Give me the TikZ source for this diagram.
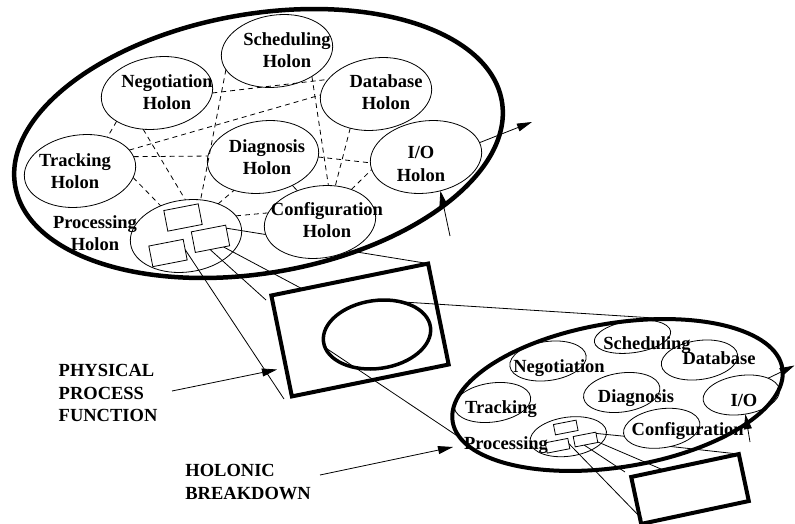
\documentclass[tikz,border=0pt]{standalone}
\usepackage{fontspec}
\setmainfont{Liberation Serif}
\usetikzlibrary{shapes.geometric,arrows.meta,calc}
\begin{document}
\begin{tikzpicture}[x=1pt,y=-1pt,
  holon/.style={ellipse,draw,line width=0.8pt,inner sep=0pt,outer sep=0pt,rotate=8},
  tholon/.style={holon,minimum width=112pt,minimum height=72pt},
  lholon/.style={holon,minimum width=77pt,minimum height=39pt},
  frame/.style={ellipse,draw,inner sep=0pt,outer sep=0pt},
  unit/.style={rectangle,draw,line width=0.8pt,inner sep=0pt,outer sep=0pt,rotate=11},
  tunit/.style={unit,minimum width=35pt,minimum height=21pt},
  lunit/.style={unit,minimum width=23pt,minimum height=10.5pt},
  lbl/.style={inner sep=0pt,font=\fontsize{18.5}{22.5}\selectfont\bfseries,align=center},
  side/.style={inner sep=0pt,font=\fontsize{18.5}{22.5}\selectfont\bfseries,align=left,anchor=west},
  comm/.style={line width=0.8pt,dash pattern=on 5pt off 4pt},
  link/.style={line width=0.8pt},
  arr/.style={line width=0.8pt,-{Triangle[length=15pt,width=8pt]}},
]
\useasboundingbox (0,0) rectangle (795,524);

% ---------- upper holarchy ----------
\node[frame,line width=4.5pt,minimum width=494pt,minimum height=259pt,rotate=9.9] (te) at (258.5,143.5) {};
\node[tholon] (sch) at (277,51) {};
\node[tholon] (neg) at (157,93) {};
\node[tholon] (dat) at (376,94) {};
\node[tholon] (tra) at (80,171) {};
\node[tholon] (dia) at (263,157) {};
\node[tholon] (io)  at (426,157) {};
\node[tholon] (con) at (320,222) {};
\node[tholon] (pro) at (186,236) {};
\node[tunit] (r1) at (183,217.5) {};
\node[tunit] (r2) at (168,253) {};
\node[tunit] (r3) at (210.5,238.8) {};

\draw[comm] (neg.207.5) -- (tra.43);
\draw[comm] (neg.352) -- (dat.155.6);
\draw[comm] (tra.15.6) -- (dat.173);
\draw[comm] (tra.7.3) -- (dia.171);
\draw[comm] (sch.192) -- (pro.60.7);
\draw[comm] (neg.241) -- (pro.83.6);
\draw[comm] (tra.345) -- (pro.122);
\draw[comm] (pro.37) -- (dia.221);
\draw[comm] (pro.14.3) -- (con.162);
\draw[comm] (sch.316) -- (con.69.8);
\draw[comm] (dat.225.4) -- (con.59.9);
\draw[comm] (dia.352) -- (io.178);
\draw[comm] (con.38.6) -- (io.185);
\draw[link] (dia.308) -- (con.118.6);

% physical process function box
\node[rectangle,draw,line width=4pt,inner sep=0pt,outer sep=0pt,minimum width=160pt,minimum height=103pt,rotate=11.5] (ppf) at (360,330) {};
\node[frame,line width=3.5pt,minimum width=108pt,minimum height=68pt,rotate=8] (ie) at (377,334.5) {};

\coordinate (c1) at (266,300);
\coordinate (c3) at (284,399);
\draw[link] (r3.23) -- (con.185);
\draw[link] (r3.257) -- (c1);
\draw[link] (r3.-43) -- ($(ppf.north west)!0.2!(ppf.north east)$);
\draw[link] (r2.east) -- (c3);
\draw[link] (con.307) -- (ppf.north east);

% arrows of upper holarchy
\coordinate (t1) at (532,122);
\coordinate (s1) at (450,236);
\draw[arr] (io.7) -- (t1);
\draw[arr] (s1) -- (io.285.8);

% ---------- lower holarchy ----------
\node[frame,line width=4pt,minimum width=334pt,minimum height=144pt,rotate=9.2] (le) at (617.5,395) {};
\node[lholon,minimum height=32pt] (lsch) at (632.5,336.7) {};
\node[lholon] (lneg) at (548,361) {};
\node[lholon] (ldat) at (699.5,360) {};
\node[lholon] (ltra) at (492.5,402.5) {};
\node[lholon] (ldia) at (621.7,392.5) {};
\node[lholon] (lio)  at (741.3,395) {};
\node[lholon] (lcon) at (661.7,428.3) {};
\node[lholon] (lpro) at (568.3,436.7) {};
\node[lunit] (lr1) at (565.75,427.5) {};
\node[lunit] (lr2) at (557.5,445.75) {};
\node[lunit] (lr3) at (585.5,439.5) {};

\node[rectangle,draw,line width=4pt,inner sep=0pt,outer sep=0pt,minimum width=110pt,minimum height=48pt,rotate=12] (sb) at (690,489) {};

\coordinate (c5) at (625,472);
\coordinate (c6) at (642,519);
\draw[link] (lr3.19) -- (lcon.184.7);
\draw[link] (lr3.246) -- (c5);
\draw[link] (lr3.-22) -- ($(sb.north west)!0.3!(sb.north east)$);
\draw[link] (lr2.east) -- (c6);
\draw[link] (lcon.288.4) -- (sb.north east);

\coordinate (t2) at (794.5,365.5);
\coordinate (s2) at (750,442);
\draw[arr] (lio.24) -- (t2);
\draw[arr] (s2) -- (lio.274);

% projection lines between the levels
\draw[link] (ie.46) -- (le.45.5);
\draw[link] (ie.186) -- (le.186.3);

% side labels and their arrows
\node[side] (phys) at (58.5,393.1) {PHYSICAL\\PROCESS\\FUNCTION};
\node[side] (holb) at (185.2,482) {HOLONIC\\BREAKDOWN};
\coordinate (pa) at (172,391);
\coordinate (pb) at (277,369.5);
\coordinate (ha) at (320,475);
\coordinate (hb) at (453,447);
\draw[arr] (pa) -- (pb);
\draw[arr] (ha) -- (hb);

% texts of upper holarchy
\node[lbl] (tsch) at (287,50) {Scheduling\\Holon};
\node[lbl] (tneg) at (167,92.3) {Negotiation\\Holon};
\node[lbl] (tdat) at (386,92.3) {Database\\Holon};
\node[lbl] (ttra) at (75,171) {Tracking\\Holon};
\node[lbl] (tdia) at (267,157) {Diagnosis\\Holon};
\node[lbl] (tio)  at (421,164) {I/O\\Holon};
\node[lbl] (tcon) at (327,220) {Configuration\\Holon};
\node[lbl] (tpro) at (95,233) {Processing\\Holon};

% texts of lower holarchy
\node[lbl,anchor=base] (usch) at (647,349.3) {Scheduling};
\node[lbl,anchor=base] (uneg) at (559,372.7) {Negotiation};
\node[lbl,anchor=base] (udat) at (719,364.3) {Database};
\node[lbl,anchor=base] (udia) at (636,402.7) {Diagnosis};
\node[lbl,anchor=base] (utra) at (501,413.3) {Tracking};
\node[lbl,anchor=base] (uio)  at (744,406) {I/O};
\node[lbl,anchor=base] (ucon) at (687.7,435) {Configuration};
\node[lbl,anchor=base] (upro) at (506,449.3) {Processing};
\end{tikzpicture}
\end{document}
